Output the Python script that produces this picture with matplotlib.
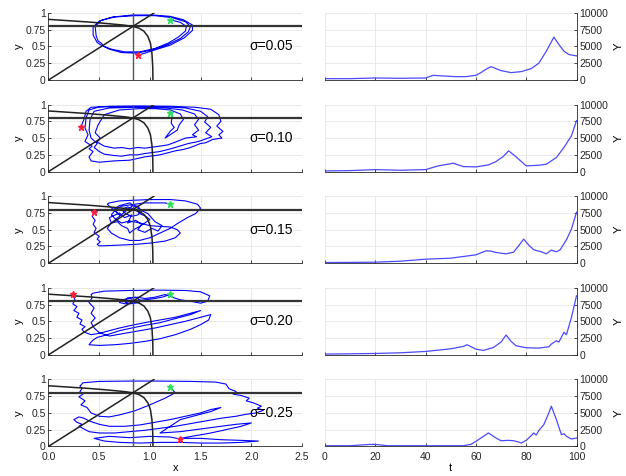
import matplotlib
matplotlib.use("Agg")
import matplotlib.pyplot as plt

plt.rcParams['font.family'] = ['Liberation Sans', 'DejaVu Sans']

sigmas = ['0.05', '0.10', '0.15', '0.20', '0.25']

# nullclines
null_x = [0, 0.2, 0.4, 0.6, 0.75, 0.83, 0.89, 0.94, 0.98, 1.005, 1.02, 1.028, 1.03]
null_y = [0.905, 0.885, 0.865, 0.84, 0.818, 0.80, 0.775, 0.73, 0.65, 0.55, 0.4, 0.2, 0.0]
diag_x = [0, 1.04]
diag_y = [0, 1.0]
x_star = 0.83
y_star = 0.8

# phase trajectories, one per sigma
traj_x = [
    [1.20, 1.30, 1.36, 1.35, 1.28, 1.18, 1.05, 0.90, 0.75, 0.62, 0.55, 0.52, 0.49, 0.47, 0.46, 0.52, 0.65,
     0.85, 1.05, 1.22, 1.35, 1.40, 1.38, 1.30, 1.18, 1.02, 0.87, 0.72, 0.60, 0.52, 0.48, 0.44, 0.44, 0.50,
     0.63, 0.83, 1.03, 1.20, 1.33, 1.42, 1.42, 1.34, 1.20, 1.03, 0.95, 0.88],
]
traj_y = [
    [0.90, 0.86, 0.80, 0.73, 0.64, 0.55, 0.47, 0.42, 0.42, 0.46, 0.50, 0.55, 0.58, 0.66, 0.80, 0.89, 0.94,
     0.96, 0.96, 0.93, 0.87, 0.80, 0.72, 0.62, 0.53, 0.45, 0.40, 0.41, 0.46, 0.52, 0.56, 0.67, 0.79, 0.88,
     0.94, 0.97, 0.97, 0.95, 0.90, 0.82, 0.74, 0.63, 0.52, 0.44, 0.40, 0.37],
]
traj_x.append(
    [0.32, 0.35, 0.37, 0.42, 0.60, 0.90, 1.20, 1.45, 1.60, 1.68, 1.70, 1.66, 1.72, 1.68, 1.71, 1.62, 1.55,
     1.50, 1.40, 1.33, 1.25, 1.10, 0.95, 0.80, 0.65, 0.50, 0.42, 0.40, 0.44, 0.40, 0.43, 0.36, 0.39, 0.36,
     0.37, 0.40, 0.50, 0.80, 1.10, 1.35, 1.50, 1.57, 1.54, 1.60, 1.55, 1.61, 1.50, 1.45, 1.38, 1.25, 1.18,
     1.10, 0.95, 0.88, 0.80, 0.72, 0.65, 0.55, 0.50, 0.45, 0.48, 0.42, 0.40, 0.41, 0.45, 0.60, 0.90, 1.15,
     1.32, 1.44, 1.48, 1.44, 1.48, 1.42, 1.46, 1.35, 1.25, 1.18, 1.10, 0.95, 0.88, 0.80, 0.72, 0.65, 0.55,
     0.48, 0.51, 0.46, 0.49, 0.55, 0.70, 0.90, 1.05, 1.20, 1.30, 1.33, 1.29, 1.27, 1.23, 1.21, 1.15, 1.20,
     1.24, 1.21, 1.22, 1.20])
traj_y.append(
    [0.67, 0.78, 0.90, 0.96, 0.975, 0.98, 0.975, 0.96, 0.93, 0.85, 0.75, 0.68, 0.60, 0.55, 0.50, 0.48, 0.43,
     0.42, 0.36, 0.33, 0.31, 0.25, 0.22, 0.17, 0.16, 0.14, 0.16, 0.22, 0.30, 0.34, 0.38, 0.45, 0.55, 0.65,
     0.80, 0.92, 0.965, 0.97, 0.97, 0.95, 0.90, 0.82, 0.74, 0.66, 0.58, 0.52, 0.46, 0.44, 0.42, 0.36, 0.33,
     0.30, 0.27, 0.25, 0.25, 0.23, 0.24, 0.26, 0.30, 0.36, 0.42, 0.50, 0.62, 0.78, 0.90, 0.95, 0.96, 0.95,
     0.92, 0.86, 0.78, 0.70, 0.62, 0.55, 0.52, 0.50, 0.44, 0.40, 0.38, 0.35, 0.36, 0.34, 0.36, 0.35, 0.38,
     0.44, 0.50, 0.58, 0.70, 0.85, 0.92, 0.94, 0.94, 0.92, 0.86, 0.78, 0.70, 0.62, 0.58, 0.56, 0.50, 0.60,
     0.66, 0.72, 0.84, 0.90])
traj_x.append(
    [0.45, 0.43, 0.46, 0.44, 0.47, 0.45, 0.50, 0.48, 0.51, 0.48, 0.50, 0.55, 0.70, 0.85, 1.00, 1.15, 1.25,
     1.30, 1.27, 1.20, 1.10, 1.00, 0.90, 0.80, 0.72, 0.66, 0.62, 0.66, 0.72, 0.80, 0.88, 0.92, 0.88, 0.82,
     0.76, 0.72, 0.78, 0.86, 0.90, 0.96, 1.00, 0.95, 0.90, 0.84, 0.80, 0.78, 0.72, 0.68, 0.62, 0.60, 0.70,
     0.75, 0.82, 0.78, 0.86, 0.92, 0.88, 0.95, 1.02, 1.08, 1.12, 1.05, 0.98, 0.90, 0.80, 0.70, 0.64, 0.70,
     0.66, 0.60, 0.58, 0.60, 0.70, 0.85, 1.00, 1.20, 1.35, 1.47, 1.50, 1.45, 1.37, 1.28, 1.20, 1.10, 1.00,
     0.90, 0.80, 0.70, 0.62, 0.58, 0.62, 0.70, 0.78, 0.85, 0.95, 1.05, 1.15, 1.20])
traj_y.append(
    [0.76, 0.70, 0.64, 0.58, 0.52, 0.46, 0.40, 0.36, 0.32, 0.28, 0.26, 0.26, 0.27, 0.28, 0.30, 0.33, 0.38,
     0.45, 0.50, 0.54, 0.55, 0.56, 0.60, 0.63, 0.60, 0.66, 0.72, 0.80, 0.85, 0.87, 0.85, 0.78, 0.72, 0.70,
     0.74, 0.80, 0.84, 0.80, 0.74, 0.70, 0.65, 0.60, 0.55, 0.50, 0.45, 0.52, 0.56, 0.62, 0.60, 0.68, 0.75,
     0.68, 0.72, 0.60, 0.64, 0.58, 0.50, 0.46, 0.52, 0.48, 0.56, 0.62, 0.74, 0.80, 0.90, 0.86, 0.80, 0.72,
     0.78, 0.85, 0.88, 0.90, 0.93, 0.94, 0.95, 0.95, 0.93, 0.88, 0.82, 0.74, 0.68, 0.60, 0.52, 0.45, 0.38,
     0.34, 0.34, 0.38, 0.45, 0.52, 0.60, 0.70, 0.80, 0.88, 0.90, 0.90, 0.90, 0.88])
traj_x.append(
    [0.24, 0.26, 0.24, 0.28, 0.25, 0.30, 0.28, 0.33, 0.31, 0.36, 0.33, 0.35, 0.42, 0.50, 0.60, 0.70, 0.82,
     0.95, 1.10, 1.25, 1.40, 1.50, 1.40, 1.25, 1.10, 0.95, 0.82, 0.70, 0.58, 0.48, 0.44, 0.42, 0.40, 0.50,
     0.65, 0.80, 0.95, 1.10, 1.25, 1.40, 1.50, 1.58, 1.60, 1.50, 1.35, 1.20, 1.05, 0.90, 0.75, 0.60, 0.50,
     0.45, 0.42, 0.46, 0.42, 0.45, 0.40, 0.43, 0.42, 0.44, 0.55, 0.80, 1.10, 1.35, 1.50, 1.59, 1.57, 1.50,
     1.40, 1.30, 1.22, 1.15, 1.05, 0.95, 0.88, 0.80, 0.72, 0.70, 0.76, 0.84, 0.90, 0.86, 0.78, 0.74, 0.80,
     0.90, 0.82, 0.76, 0.86, 0.95, 1.05, 1.12, 1.20])
traj_y.append(
    [0.90, 0.82, 0.76, 0.72, 0.66, 0.62, 0.56, 0.52, 0.46, 0.42, 0.38, 0.34, 0.30, 0.32, 0.36, 0.40, 0.44,
     0.48, 0.52, 0.56, 0.62, 0.66, 0.60, 0.54, 0.48, 0.44, 0.40, 0.36, 0.30, 0.26, 0.22, 0.19, 0.15, 0.14,
     0.15, 0.17, 0.20, 0.24, 0.30, 0.38, 0.45, 0.52, 0.60, 0.56, 0.50, 0.45, 0.40, 0.36, 0.32, 0.28, 0.33,
     0.40, 0.48, 0.55, 0.62, 0.70, 0.78, 0.85, 0.90, 0.92, 0.95, 0.96, 0.965, 0.96, 0.94, 0.88, 0.80, 0.77,
     0.80, 0.82, 0.86, 0.90, 0.86, 0.84, 0.86, 0.84, 0.82, 0.78, 0.76, 0.78, 0.82, 0.86, 0.85, 0.80, 0.76,
     0.78, 0.82, 0.79, 0.81, 0.82, 0.84, 0.86, 0.90])
traj_x.append(
    [1.20, 1.22, 1.25, 1.15, 1.00, 0.85, 0.70, 0.60, 0.50, 0.42, 0.38, 0.32, 0.36, 0.30, 0.34, 0.31, 0.33,
     0.31, 0.34, 0.50, 0.80, 1.10, 1.40, 1.65, 1.75, 1.78, 1.85, 1.82, 1.90, 1.98, 1.95, 2.02, 2.10, 2.06,
     2.12, 2.05, 1.95, 1.85, 1.70, 1.55, 1.40, 1.25, 1.10, 0.95, 0.80, 0.65, 0.50, 0.40, 0.35, 0.30, 0.33,
     0.28, 0.25, 0.30, 0.35, 0.40, 0.50, 0.60, 0.75, 0.90, 1.05, 1.20, 1.35, 1.50, 1.60, 1.70, 1.60, 1.45,
     1.30, 1.10, 1.30, 1.50, 1.70, 1.85, 2.00, 1.90, 1.75, 1.60, 1.45, 1.30, 1.50, 1.70, 1.90, 2.07, 1.90,
     1.70, 1.50, 1.30, 1.10, 0.90, 0.70, 0.55, 0.45, 0.60, 0.80, 1.00, 1.20, 1.30])
traj_y.append(
    [0.91, 0.85, 0.80, 0.72, 0.62, 0.53, 0.47, 0.44, 0.45, 0.50, 0.58, 0.62, 0.68, 0.74, 0.78, 0.82, 0.86,
     0.90, 0.95, 0.97, 0.975, 0.975, 0.97, 0.96, 0.93, 0.86, 0.82, 0.78, 0.76, 0.72, 0.68, 0.65, 0.60, 0.57,
     0.54, 0.50, 0.48, 0.45, 0.42, 0.38, 0.34, 0.30, 0.27, 0.24, 0.22, 0.20, 0.20, 0.22, 0.26, 0.30, 0.33,
     0.36, 0.40, 0.44, 0.42, 0.38, 0.33, 0.30, 0.30, 0.32, 0.36, 0.40, 0.45, 0.50, 0.55, 0.58, 0.52, 0.46,
     0.40, 0.20, 0.22, 0.26, 0.30, 0.33, 0.35, 0.30, 0.25, 0.20, 0.16, 0.12, 0.12, 0.10, 0.09, 0.08, 0.06,
     0.05, 0.05, 0.06, 0.06, 0.05, 0.06, 0.08, 0.12, 0.15, 0.13, 0.15, 0.14, 0.11])

red_pts = [(0.88, 0.37), (0.32, 0.67), (0.45, 0.76), (0.24, 0.90), (1.30, 0.11)]
green_pts = [(1.20, 0.90), (1.20, 0.88), (1.20, 0.89), (1.20, 0.91), (1.20, 0.89)]

# time series of Y
ts_t = [
    [0, 10, 20, 30, 40, 43, 47, 52, 56, 60, 62, 64, 66, 68, 70, 74, 78, 82, 85, 88, 91, 93, 95, 97, 100],
    [0, 10, 20, 30, 40, 45, 51, 55, 60, 65, 68, 71, 73, 76, 80, 85, 88, 92, 95, 98, 100],
    [0, 10, 20, 30, 40, 50, 55, 60, 64, 66, 68, 70, 72, 75, 77, 79, 81, 83, 86, 88, 90, 92, 93.5, 96, 98, 100],
    [0, 10, 20, 30, 40, 50, 55, 56.5, 60, 63, 67, 70, 72, 74, 76, 80, 85, 89, 90, 92, 93, 95, 96, 98, 100],
    [0, 10, 18, 20, 25, 40, 55, 58, 60, 62, 65, 68, 70, 73, 75, 77, 78, 80, 82, 83, 84, 85, 87, 89, 90, 92,
     94, 95, 96, 97, 98, 100],
]
ts_Y = [
    [200, 200, 300, 250, 300, 700, 600, 500, 500, 700, 1100, 1600, 2000, 1700, 1400, 1100, 1250, 1700,
     2500, 4300, 6400, 5300, 4300, 3800, 3600],
    [100, 150, 300, 200, 300, 850, 1250, 750, 700, 1000, 1500, 2300, 3100, 2200, 850, 950, 1100, 2100,
     3600, 5350, 7600],
    [100, 120, 150, 300, 600, 750, 1000, 1250, 1850, 1800, 1600, 1500, 1400, 1650, 2600, 3600, 2700, 2000,
     1700, 1400, 1950, 1700, 2000, 3500, 5100, 7600],
    [100, 150, 200, 300, 500, 900, 1250, 1500, 850, 650, 1100, 1900, 2950, 2000, 1350, 1050, 1000, 1200,
     1600, 2100, 1900, 3350, 3000, 5600, 8800],
    [100, 100, 300, 300, 100, 100, 100, 300, 750, 1250, 2000, 1250, 850, 900, 850, 650, 500, 900, 1600,
     2000, 1700, 2350, 3250, 5000, 6000, 4000, 1750, 1900, 1500, 1300, 1100, 1250],
]

fig = plt.figure(figsize=(6.26, 4.76), dpi=100)
grid_c = '#e6e6e6'
spine_c = '#262626'

for i in range(5):
    bottom = (476 - 80 - i * 91.6) / 476
    h = 67 / 476
    axl = fig.add_axes([48.5 / 626, bottom, 253.5 / 626, h])
    axr = fig.add_axes([325 / 626, bottom, 251.5 / 626, h])

    # phase plane
    axl.plot(traj_x[i], traj_y[i], color='#0000ff', lw=0.8, zorder=2)
    axl.axhline(y_star, color='#333333', lw=1.6, zorder=3)
    axl.plot([x_star, x_star], [0, 1], color='#555555', lw=1.0, zorder=3)
    axl.plot(diag_x, diag_y, color='#222222', lw=1.1, zorder=3)
    axl.plot(null_x, null_y, color='#222222', lw=1.1, zorder=3)
    axl.plot(*red_pts[i], marker='*', color='#ff2040', ms=4.5, zorder=4)
    axl.plot(*green_pts[i], marker='*', color='#30e060', ms=4.5, zorder=4)
    axl.text(1.98, 0.5, '\u03c3=' + sigmas[i], fontsize=10, va='center', ha='left', zorder=5)
    axl.set_xlim(0, 2.5)
    axl.set_ylim(0, 1)
    axl.set_xticks([0, 0.5, 1, 1.5, 2, 2.5])
    axl.set_yticks([0, 0.25, 0.5, 0.75, 1])
    axl.set_yticklabels(['0', '0.25', '0.5', '0.75', '1'])
    axl.set_ylabel('y', fontsize=8, labelpad=1)

    # time series
    axr.plot(ts_t[i], ts_Y[i], color='#4a4aff', lw=0.9)
    axr.set_xlim(0, 100)
    axr.set_ylim(0, 10000)
    axr.set_xticks([0, 20, 40, 60, 80, 100])
    axr.set_yticks([0, 2500, 5000, 7500, 10000])
    axr.yaxis.tick_right()
    axr.yaxis.set_label_position('right')
    axr.set_ylabel('Y', fontsize=8, labelpad=4)

    for ax, side in ((axl, 'right'), (axr, 'left')):
        ax.grid(True, color=grid_c, lw=0.6)
        ax.set_axisbelow(True)
        ax.spines['top'].set_visible(False)
        ax.spines[side].set_visible(False)
        for s in ('bottom', 'left', 'right'):
            ax.spines[s].set_color(spine_c)
            ax.spines[s].set_linewidth(0.6)
        ax.tick_params(direction='in', length=2.5, width=0.6, labelsize=7.5, colors=spine_c, pad=2)
        ax.tick_params(axis='x', pad=4)
        if i < 4:
            ax.set_xticklabels([])

    if i == 4:
        axl.set_xlabel('x', fontsize=8, labelpad=1)
        axr.set_xlabel('t', fontsize=8, labelpad=1)

fig.savefig('out.png', dpi=100)
